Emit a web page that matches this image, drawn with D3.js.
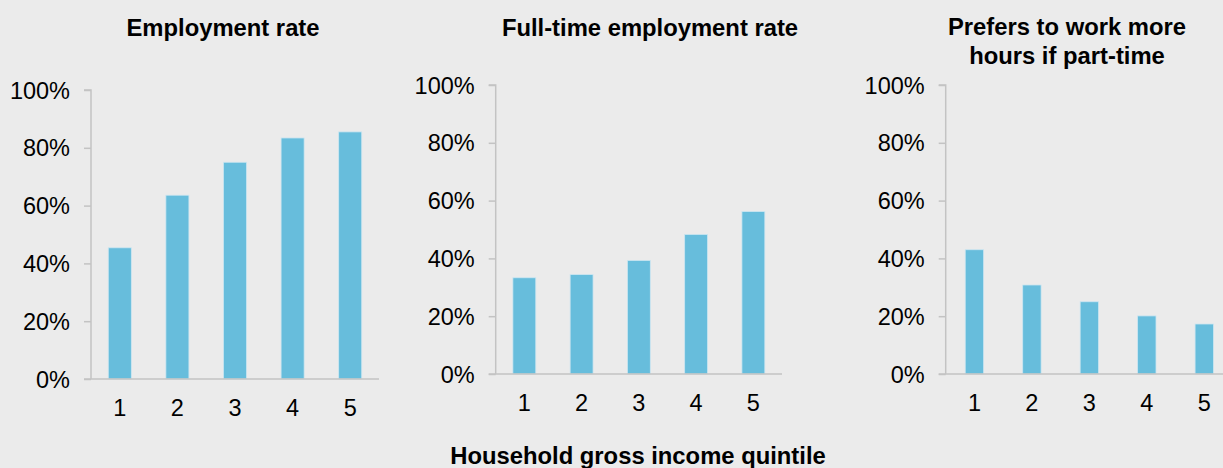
<!DOCTYPE html>
<html>
<head>
<meta charset="utf-8">
<script src="https://cdn.jsdelivr.net/npm/d3@7"></script>
<style>
  html, body { margin: 0; padding: 0; background: #ebebeb; }
  svg { display: block; font-family: Arial, "Liberation Sans", Helvetica, sans-serif; }
</style>
</head>
<body>
<svg id="chart" width="1223" height="468"></svg>
<script>
// ---- data ----
const quintiles = ["1", "2", "3", "4", "5"];
const employmentRate = [0.454, 0.636, 0.750, 0.834, 0.855];
const fullTimeRate = [0.333, 0.344, 0.393, 0.483, 0.562];
const prefersMoreHours = [0.430, 0.308, 0.250, 0.201, 0.173];
const yTicks = [0, 0.2, 0.4, 0.6, 0.8, 1.0];
const panelTitles = [
  ["Employment rate"],
  ["Full-time employment rate"],
  ["Prefers to work more", "hours if part-time"]
];
const xAxisTitle = "Household gross income quintile";

// ---- layout ----
const svg = d3.select("#chart");
const panels = [
  { values: employmentRate,   left: 91,    right: 379,  top: 90, bottom: 379, pad: 0.6,  titleX: 223,  titleY: 36 },
  { values: fullTimeRate,     left: 495.7, right: 782,  top: 85, bottom: 374, pad: 0.6,  titleX: 650,  titleY: 36 },
  { values: prefersMoreHours, left: 945.7, right: 1233, top: 85, bottom: 374, pad: 0.68, titleX: 1067, titleY: 35 }
];

panels.forEach((p, i) => {
  const x = d3.scaleBand().domain(quintiles).range([p.left, p.right]).paddingInner(p.pad).paddingOuter(p.pad / 2);
  const y = d3.scaleLinear().domain([0, 1]).range([p.bottom, p.top]);
  const g = svg.append("g");

  // bars
  g.selectAll("rect.bar").data(p.values).join("rect")
    .attr("class", "bar")
    .attr("x", (d, j) => x(quintiles[j]))
    .attr("width", x.bandwidth())
    .attr("y", d => y(d))
    .attr("height", d => y(0) - y(d))
    .attr("fill", "#67bddc")
    .attr("stroke", "#cde6f1")
    .attr("stroke-width", 0.8);

  // y axis
  const yAxis = d3.axisLeft(y).tickValues(yTicks).tickFormat(d3.format(".0%")).tickSize(7).tickPadding(14);
  const ya = g.append("g").attr("transform", `translate(${p.left},0)`).call(yAxis);
  ya.select(".domain").attr("stroke", "#c3c3c3").attr("stroke-width", 1.5).attr("d", `M${-7},${p.top}H0V${p.bottom}`);
  ya.selectAll(".tick line").attr("stroke", "#c3c3c3").attr("stroke-width", 1.5);
  ya.selectAll(".tick text").attr("fill", "#000").style("font-size", "23.5px").attr("dy", "0.34em");

  // x axis
  const xAxis = d3.axisBottom(x).tickSize(0).tickPadding(20);
  const xa = g.append("g").attr("transform", `translate(0,${p.bottom})`).call(xAxis);
  xa.select(".domain").attr("stroke", "#c3c3c3").attr("stroke-width", 1.5).attr("d", `M${p.left - 7},0H${p.right}`);
  xa.selectAll(".tick text").attr("fill", "#000").style("font-size", "23.5px");

  // title
  const t = g.append("text")
    .attr("x", p.titleX).attr("y", p.titleY)
    .attr("text-anchor", "middle")
    .style("font-size", "23.8px").style("font-weight", "bold").attr("fill", "#000");
  panelTitles[i].forEach((line, k) => {
    t.append("tspan").attr("x", p.titleX).attr("dy", k === 0 ? 0 : 28.5).text(line);
  });
});

svg.append("text")
  .attr("x", 638).attr("y", 464)
  .attr("text-anchor", "middle")
  .style("font-size", "23.8px").style("font-weight", "bold").attr("fill", "#000")
  .text(xAxisTitle);
</script>
</body>
</html>
